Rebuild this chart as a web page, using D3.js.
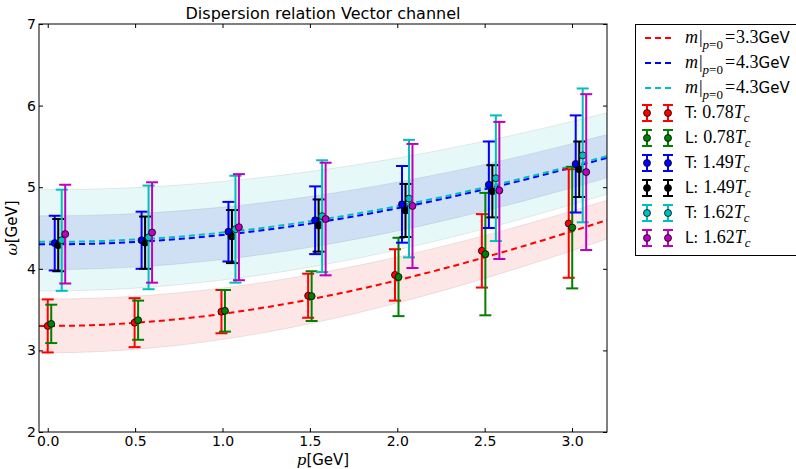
<!DOCTYPE html>
<html>
<head>
<meta charset="utf-8">
<script src="https://cdn.jsdelivr.net/npm/d3@7"></script>
<style>
    body { margin: 0; background: #fff; }
    svg { display: block; font-family: "DejaVu Sans", sans-serif; }
    .tick text { font-size: 14px; fill: #000; }
    .tick line { stroke: #000; }
</style>
</head>
<body>
<div id="chart"></div>
<script>
// lattice momenta (GeV) and the small shift each series gets so the bars do not overlap
const momenta = [0, 0.497, 0.994, 1.490, 1.987, 2.484, 2.981];
const shifts = [0, 0.02, 0.04, 0.06, 0.08, 0.10];

// omega values and (symmetric) errors
const omegaT078 = [3.30, 3.34, 3.475, 3.67, 3.925, 4.22, 4.555];
const errT078   = [0.325, 0.30, 0.265, 0.27, 0.315, 0.45, 0.665];
const omegaL078 = [3.325, 3.37, 3.485, 3.665, 3.90, 4.18, 4.505];
const errL078   = [0.235, 0.24, 0.255, 0.305, 0.48, 0.75, 0.745];
const omegaT149 = [4.315, 4.35, 4.455, 4.595, 4.79, 5.03, 5.285];
const errT149   = [0.335, 0.35, 0.365, 0.415, 0.47, 0.53, 0.595];
const omegaL149 = [4.29, 4.32, 4.395, 4.53, 4.715, 4.95, 5.22];
const errL149   = [0.32, 0.32, 0.325, 0.32, 0.325, 0.32, 0.34];
const omegaT162 = [4.35, 4.385, 4.485, 4.645, 4.86, 5.11, 5.39];
const errT162   = [0.62, 0.635, 0.655, 0.685, 0.72, 0.77, 0.82];
const omegaL162 = [4.425, 4.445, 4.51, 4.61, 4.77, 4.96, 5.185];
const errL162   = [0.605, 0.615, 0.65, 0.69, 0.76, 0.84, 0.955];

// dispersion curves and bands
const curveP      = [-0.05, 0, 0.25, 0.5, 0.75, 1.0, 1.25, 1.5, 1.75, 2.0, 2.25, 2.5, 2.75, 3.0, 3.2];
const curveRed    = [3.300, 3.300, 3.309, 3.338, 3.384, 3.448, 3.529, 3.625, 3.735, 3.859, 3.994, 4.140, 4.296, 4.460, 4.597];
const curveBlue   = [4.300, 4.300, 4.307, 4.329, 4.365, 4.415, 4.478, 4.554, 4.642, 4.742, 4.853, 4.974, 5.104, 5.243, 5.360];
const curveCyan   = [4.330, 4.330, 4.337, 4.359, 4.394, 4.444, 4.507, 4.582, 4.669, 4.768, 4.878, 4.998, 5.127, 5.265, 5.381];
const bandRedLo   = [2.970, 2.970, 2.981, 3.012, 3.063, 3.134, 3.222, 3.327, 3.447, 3.581, 3.726, 3.882, 4.048, 4.221, 4.366];
const bandRedHi   = [3.630, 3.630, 3.639, 3.664, 3.707, 3.765, 3.839, 3.928, 4.030, 4.145, 4.271, 4.408, 4.554, 4.709, 4.839];
const bandBlueLo  = [3.990, 3.990, 3.998, 4.021, 4.060, 4.113, 4.181, 4.263, 4.357, 4.463, 4.581, 4.709, 4.846, 4.992, 5.115];
const bandBlueHi  = [4.650, 4.650, 4.657, 4.677, 4.710, 4.756, 4.815, 4.886, 4.968, 5.062, 5.166, 5.279, 5.402, 5.534, 5.645];
const bandCyanLo  = [3.730, 3.730, 3.738, 3.763, 3.805, 3.862, 3.934, 4.020, 4.120, 4.232, 4.356, 4.490, 4.634, 4.787, 4.915];
const bandCyanHi  = [4.970, 4.970, 4.976, 4.995, 5.026, 5.070, 5.125, 5.191, 5.269, 5.357, 5.456, 5.563, 5.680, 5.805, 5.911];

const xTicks = [0, 0.5, 1.0, 1.5, 2.0, 2.5, 3.0];
const yTicks = [2, 3, 4, 5, 6, 7];

const seriesNames = ["T", "L", "T", "L", "T", "L"];
const seriesTemps = ["0.78", "0.78", "1.49", "1.49", "1.62", "1.62"];
const massLabels = ["3.3", "4.3", "4.3"];

const series = [
    {omega: omegaT078, err: errT078, color: "#ff0000"},
    {omega: omegaL078, err: errL078, color: "#008000"},
    {omega: omegaT149, err: errT149, color: "#0000ff"},
    {omega: omegaL149, err: errL149, color: "#000000"},
    {omega: omegaT162, err: errT162, color: "#00bfbf"},
    {omega: omegaL162, err: errL162, color: "#bf00bf"}
];

const W = 796, H = 469;
const plot = {left: 39, right: 607, top: 24, bottom: 432};

const svg = d3.select("#chart").append("svg")
    .attr("width", W)
    .attr("height", H);

const x = d3.scaleLinear().domain([-0.05, 3.2]).range([plot.left, plot.right]);
const y = d3.scaleLinear().domain([2, 7]).range([plot.bottom, plot.top]);

svg.append("defs").append("clipPath")
    .attr("id", "plotClip")
    .append("rect")
    .attr("x", plot.left).attr("y", plot.top)
    .attr("width", plot.right - plot.left)
    .attr("height", plot.bottom - plot.top);

const inner = svg.append("g").attr("clip-path", "url(#plotClip)");

// bands
function drawBand(lo, hi, fill) {
    const area = d3.area()
        .x((d, i) => x(curveP[i]))
        .y0((d, i) => y(lo[i]))
        .y1((d, i) => y(hi[i]))
        .curve(d3.curveMonotoneX);
    inner.append("path")
        .datum(curveP)
        .attr("d", area)
        .attr("fill", fill)
        .attr("stroke", "rgba(0,0,0,0.08)")
        .attr("stroke-width", 1);
}
drawBand(bandRedLo, bandRedHi, "#fde6e6");
drawBand(bandCyanLo, bandCyanHi, "#e6f8f8");
drawBand(bandBlueLo, bandBlueHi, "#cfe0f5");

// dashed dispersion curves
function drawCurve(values, color) {
    const line = d3.line()
        .x((d, i) => x(curveP[i]))
        .y((d, i) => y(values[i]))
        .curve(d3.curveMonotoneX);
    inner.append("path")
        .datum(curveP)
        .attr("d", line)
        .attr("fill", "none")
        .attr("stroke", color)
        .attr("stroke-width", 2)
        .attr("stroke-dasharray", "6,4");
}
drawCurve(curveRed, "#ff0000");
drawCurve(curveBlue, "#0000ff");
drawCurve(curveCyan, "#00bfbf");

// error bars with markers
series.forEach((s, k) => {
    const g = inner.append("g");
    const pts = momenta.map((p, i) => ({p: p + shifts[k], w: s.omega[i], e: s.err[i]}));

    g.selectAll(".bar")
        .data(pts)
        .enter().append("line")
        .attr("x1", d => x(d.p)).attr("x2", d => x(d.p))
        .attr("y1", d => y(d.w - d.e)).attr("y2", d => y(d.w + d.e))
        .attr("stroke", s.color)
        .attr("stroke-width", 2);

    [-1, 1].forEach(sign => {
        g.selectAll(".cap" + sign)
            .data(pts)
            .enter().append("line")
            .attr("x1", d => x(d.p) - 6).attr("x2", d => x(d.p) + 6)
            .attr("y1", d => y(d.w + sign * d.e)).attr("y2", d => y(d.w + sign * d.e))
            .attr("stroke", s.color)
            .attr("stroke-width", 2);
    });

    g.selectAll("circle")
        .data(pts)
        .enter().append("circle")
        .attr("cx", d => x(d.p))
        .attr("cy", d => y(d.w))
        .attr("r", 3.5)
        .attr("fill", s.color)
        .attr("stroke", "#000")
        .attr("stroke-width", 0.8);
});

// axes with inward ticks on all four sides
svg.append("g")
    .attr("transform", `translate(0,${plot.bottom})`)
    .call(d3.axisBottom(x).tickValues(xTicks).tickFormat(d3.format(".1f")).tickSize(-4).tickPadding(4))
    .call(g => g.select(".domain").remove());
svg.append("g")
    .attr("transform", `translate(0,${plot.top})`)
    .call(d3.axisTop(x).tickValues(xTicks).tickFormat("").tickSize(-4))
    .call(g => g.select(".domain").remove());
svg.append("g")
    .attr("transform", `translate(${plot.left},0)`)
    .call(d3.axisLeft(y).tickValues(yTicks).tickFormat(d3.format("d")).tickSize(-4).tickPadding(3))
    .call(g => g.select(".domain").remove());
svg.append("g")
    .attr("transform", `translate(${plot.right},0)`)
    .call(d3.axisRight(y).tickValues(yTicks).tickFormat("").tickSize(-4))
    .call(g => g.select(".domain").remove());

svg.selectAll(".tick text").attr("font-family", "DejaVu Sans").attr("font-size", 14);

svg.append("rect")
    .attr("x", plot.left).attr("y", plot.top)
    .attr("width", plot.right - plot.left)
    .attr("height", plot.bottom - plot.top)
    .attr("fill", "none")
    .attr("stroke", "#000")
    .attr("stroke-width", 1);

// title and axis labels
svg.append("text")
    .attr("x", (plot.left + plot.right) / 2)
    .attr("y", 19)
    .attr("text-anchor", "middle")
    .attr("font-size", 16)
    .text("Dispersion relation Vector channel");

const xLabel = svg.append("text")
    .attr("x", (plot.left + plot.right) / 2)
    .attr("y", 465)
    .attr("text-anchor", "middle")
    .attr("font-size", 15);
xLabel.append("tspan").attr("font-family", "DejaVu Serif").attr("font-style", "italic").text("p");
xLabel.append("tspan").text("[GeV]");

const yLabel = svg.append("text")
    .attr("transform", `translate(17,${(plot.top + plot.bottom) / 2}) rotate(-90)`)
    .attr("text-anchor", "middle")
    .attr("font-size", 15);
yLabel.append("tspan").attr("font-family", "DejaVu Serif").attr("font-style", "italic").text("ω");
yLabel.append("tspan").text("[GeV]");

// legend
const legend = svg.append("g");
legend.append("rect")
    .attr("x", 635.5).attr("y", 24.5)
    .attr("width", 170).attr("height", 231)
    .attr("fill", "#fff")
    .attr("stroke", "#000")
    .attr("stroke-width", 1);

const curveColors = ["#ff0000", "#0000ff", "#00bfbf"];
const rowY = d3.range(9).map(i => 38 + i * 25);
const serif = "Liberation Serif";

massLabels.forEach((m, i) => {
    const yy = rowY[i];
    legend.append("line")
        .attr("x1", 645).attr("x2", 671)
        .attr("y1", yy).attr("y2", yy)
        .attr("stroke", curveColors[i])
        .attr("stroke-width", 2)
        .attr("stroke-dasharray", "6,4");
    const t = legend.append("text")
        .attr("x", 685).attr("y", yy + 5)
        .attr("font-size", 15);
    t.append("tspan").attr("font-family", serif).attr("font-style", "italic").attr("font-size", 18).text("m");
    t.append("tspan").attr("font-family", serif).attr("font-size", 18).attr("dx", 1).text("|");
    t.append("tspan").attr("font-family", serif).attr("font-style", "italic").attr("font-size", 13).attr("dy", 6).text("p");
    t.append("tspan").attr("font-family", serif).attr("font-size", 13).text("=0");
    t.append("tspan").attr("font-family", serif).attr("font-size", 18).attr("dy", -6).attr("dx", 2).text("=");
    t.append("tspan").attr("font-family", serif).attr("font-size", 18).attr("dx", 1).text(m);
    t.append("tspan").text("GeV");
});

series.forEach((s, k) => {
    const yy = rowY[k + 3];
    [647, 668].forEach(cx => {
        legend.append("line")
            .attr("x1", cx).attr("x2", cx)
            .attr("y1", yy - 8).attr("y2", yy + 8)
            .attr("stroke", s.color).attr("stroke-width", 2);
        [-8, 8].forEach(dy => {
            legend.append("line")
                .attr("x1", cx - 5).attr("x2", cx + 5)
                .attr("y1", yy + dy).attr("y2", yy + dy)
                .attr("stroke", s.color).attr("stroke-width", 2);
        });
        legend.append("circle")
            .attr("cx", cx).attr("cy", yy).attr("r", 3.5)
            .attr("fill", s.color).attr("stroke", "#000").attr("stroke-width", 0.8);
    });
    const t = legend.append("text")
        .attr("x", 685).attr("y", yy + 5)
        .attr("font-size", 15);
    t.append("tspan").text(seriesNames[k] + ": ");
    t.append("tspan").attr("font-family", serif).attr("font-size", 18).text(seriesTemps[k]);
    t.append("tspan").attr("font-family", serif).attr("font-style", "italic").attr("font-size", 18).text("T");
    t.append("tspan").attr("font-family", serif).attr("font-style", "italic").attr("font-size", 13).attr("dy", 4).text("c");
});
</script>
</body>
</html>
